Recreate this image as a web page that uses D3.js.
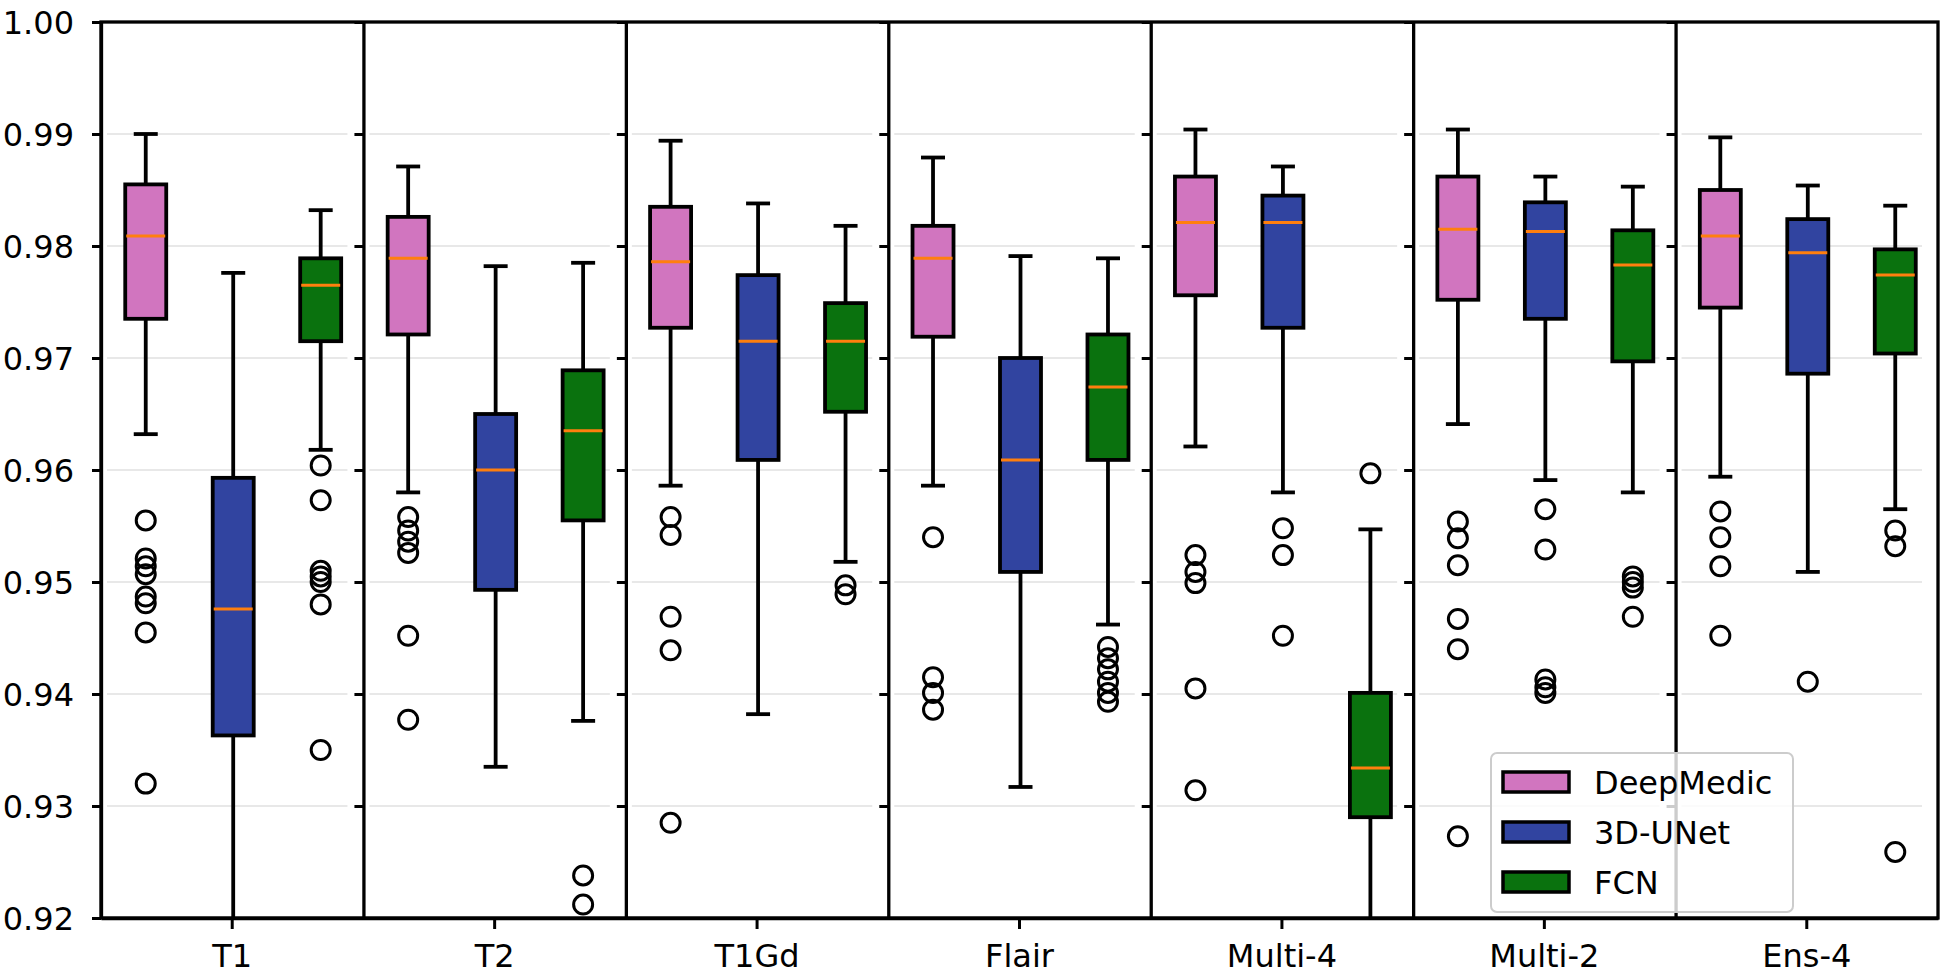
<!DOCTYPE html>
<html>
<head>
<meta charset="utf-8">
<script src="https://cdn.jsdelivr.net/npm/d3@7"></script>
<style>
  body { margin: 0; background: #fff; }
  text { font-family: "DejaVu Sans", sans-serif; }
</style>
</head>
<body>
<div id="chart"></div>
<script>
// categories, series and ticks
var groups = ["T1", "T2", "T1Gd", "Flair", "Multi-4", "Multi-2", "Ens-4"];
var methods = ["DeepMedic", "3D-UNet", "FCN"];
var yTicks = [0.92, 0.93, 0.94, 0.95, 0.96, 0.97, 0.98, 0.99, 1.00];

// [lower whisker, q1, median, q3, upper whisker] per group
var deepMedicStats = [
    [0.9632, 0.9735, 0.9809, 0.9855, 0.9900],
    [0.9580, 0.9721, 0.9789, 0.9826, 0.9871],
    [0.9586, 0.9727, 0.9786, 0.9835, 0.9894],
    [0.9586, 0.9719, 0.9789, 0.9818, 0.9879],
    [0.9621, 0.9756, 0.9821, 0.9862, 0.9904],
    [0.9641, 0.9752, 0.9815, 0.9862, 0.9904],
    [0.9594, 0.9745, 0.9809, 0.9850, 0.9897]
];
var unetStats = [
    [0.9050, 0.9363, 0.9476, 0.9593, 0.9776],
    [0.9335, 0.9493, 0.9600, 0.9650, 0.9782],
    [0.9382, 0.9609, 0.9715, 0.9774, 0.9838],
    [0.9317, 0.9509, 0.9609, 0.9700, 0.9791],
    [0.9580, 0.9727, 0.9821, 0.9845, 0.9871],
    [0.9591, 0.9735, 0.9813, 0.9839, 0.9862],
    [0.9509, 0.9686, 0.9794, 0.9824, 0.9854]
];
var fcnStats = [
    [0.9618, 0.9715, 0.9765, 0.9789, 0.9832],
    [0.9376, 0.9555, 0.9635, 0.9689, 0.9785],
    [0.9518, 0.9652, 0.9715, 0.9749, 0.9818],
    [0.9462, 0.9609, 0.9674, 0.9721, 0.9789],
    [0.9050, 0.9290, 0.9334, 0.9401, 0.9547],
    [0.9580, 0.9697, 0.9783, 0.9814, 0.9853],
    [0.9565, 0.9704, 0.9774, 0.9797, 0.9836]
];

// outliers per group
var deepMedicOut = [
    [0.9555, 0.9521, 0.9514, 0.9507, 0.9487, 0.9481, 0.9455, 0.9320],
    [0.9558, 0.9546, 0.9536, 0.9526, 0.9452, 0.9377],
    [0.9558, 0.9542, 0.9469, 0.9439, 0.9285],
    [0.9540, 0.9415, 0.9401, 0.9386],
    [0.9524, 0.9509, 0.9499, 0.9405, 0.9314],
    [0.9554, 0.9539, 0.9515, 0.9467, 0.9440, 0.9273],
    [0.9563, 0.9540, 0.9514, 0.9452]
];
var unetOut = [
    [], [], [], [],
    [0.9548, 0.9524, 0.9452],
    [0.9565, 0.9529, 0.9413, 0.9406, 0.9401],
    [0.9411]
];
var fcnOut = [
    [0.9604, 0.9573, 0.9510, 0.9505, 0.9500, 0.9480, 0.9350],
    [0.9238, 0.9212],
    [0.9497, 0.9489],
    [0.9442, 0.9432, 0.9422, 0.9411, 0.9401, 0.9393],
    [0.9597],
    [0.9505, 0.9500, 0.9495, 0.9469],
    [0.9546, 0.9532, 0.9259]
];

var colors = ["#d175bf", "#3144a0", "#0a720e"];
var allStats = [deepMedicStats, unetStats, fcnStats];
var allOut = [deepMedicOut, unetOut, fcnOut];

var W = 1950, H = 977;
var plotLeft = 101, plotRight = 1938, plotTop = 22, plotBottom = 918;

var svg = d3.select("#chart").append("svg")
    .attr("width", W).attr("height", H)
    .style("background", "#fff");

svg.append("clipPath").attr("id", "plotclip")
    .append("rect").attr("x", plotLeft).attr("y", plotTop)
    .attr("width", plotRight - plotLeft).attr("height", plotBottom - plotTop);

var x = d3.scaleBand().domain(groups).range([plotLeft, plotRight]).paddingInner(0).paddingOuter(0);
var y = d3.scaleLinear().domain([0.92, 1.00]).range([plotBottom, plotTop]);
// position of each method inside a group
var inner = d3.scaleLinear().domain([-1.5, 1.5]).range([0, x.bandwidth()]);

var boxW = 41, capW = 24, lw = 3.8;

// grid
var grid = svg.append("g");
groups.forEach(function (g) {
    grid.selectAll(null)
        .data(yTicks.slice(1, -1))
        .enter().append("line")
        .attr("x1", x(g) + 6)
        .attr("x2", x(g) + x.bandwidth() - 16)
        .attr("y1", function (d) { return y(d); })
        .attr("y2", function (d) { return y(d); })
        .attr("stroke", "#e8e8e8")
        .attr("stroke-width", 2);
});

var plot = svg.append("g").attr("clip-path", "url(#plotclip)");

groups.forEach(function (g, gi) {
    methods.forEach(function (m, mi) {
        var s = allStats[mi][gi];
        var cx = x(g) + inner(mi - 1) + 1;
        var bg = plot.append("g");

        // whiskers
        bg.append("line")
            .attr("x1", cx).attr("x2", cx)
            .attr("y1", y(s[3])).attr("y2", y(s[4]))
            .attr("stroke", "#000").attr("stroke-width", lw);
        bg.append("line")
            .attr("x1", cx).attr("x2", cx)
            .attr("y1", y(s[1])).attr("y2", y(s[0]))
            .attr("stroke", "#000").attr("stroke-width", lw);
        // caps
        [s[0], s[4]].forEach(function (v) {
            bg.append("line")
                .attr("x1", cx - capW / 2).attr("x2", cx + capW / 2)
                .attr("y1", y(v)).attr("y2", y(v))
                .attr("stroke", "#000").attr("stroke-width", lw);
        });
        // box
        bg.append("rect")
            .attr("x", cx - boxW / 2)
            .attr("y", y(s[3]))
            .attr("width", boxW)
            .attr("height", y(s[1]) - y(s[3]))
            .attr("fill", colors[mi])
            .attr("stroke", "#000")
            .attr("stroke-width", lw);
        // median
        bg.append("line")
            .attr("x1", cx - boxW / 2 + 1).attr("x2", cx + boxW / 2 - 1)
            .attr("y1", y(s[2])).attr("y2", y(s[2]))
            .attr("stroke", "#ff7f0e").attr("stroke-width", 3);
        // outliers
        bg.selectAll("circle")
            .data(allOut[mi][gi])
            .enter().append("circle")
            .attr("cx", cx)
            .attr("cy", function (d) { return y(d); })
            .attr("r", 9.5)
            .attr("fill", "none")
            .attr("stroke", "#000")
            .attr("stroke-width", 3);
    });
});

// y axes on every group's left edge (labels only on the first)
groups.forEach(function (g, gi) {
    var ax = svg.append("g")
        .attr("transform", "translate(" + x(g) + ",0)")
        .call(d3.axisLeft(y).tickValues(yTicks).tickSize(9).tickSizeOuter(0).tickPadding(18)
            .tickFormat(gi === 0 ? d3.format(".2f") : function () { return ""; }));
    ax.select(".domain").attr("stroke", "#000").attr("stroke-width", 3.3);
    ax.selectAll(".tick line").attr("stroke", "#000").attr("stroke-width", 3);
    ax.selectAll(".tick text")
        .attr("font-size", 32)
        .attr("font-family", "DejaVu Sans")
        .attr("fill", "#000")
        .attr("dy", "0.36em");
});

// x axis
var xAxis = svg.append("g")
    .attr("transform", "translate(0," + plotBottom + ")")
    .call(d3.axisBottom(x).tickSize(11).tickSizeOuter(0).tickPadding(15));
xAxis.select(".domain").attr("stroke", "#000").attr("stroke-width", 3.3);
xAxis.selectAll(".tick line").attr("stroke", "#000").attr("stroke-width", 3);
xAxis.selectAll(".tick text")
    .attr("font-size", 32)
    .attr("font-family", "DejaVu Sans")
    .attr("fill", "#000");

// frame
svg.append("rect")
    .attr("x", plotLeft).attr("y", plotTop)
    .attr("width", plotRight - plotLeft).attr("height", plotBottom - plotTop)
    .attr("fill", "none")
    .attr("stroke", "#000")
    .attr("stroke-width", 3.3);

// legend
var legend = svg.append("g").attr("transform", "translate(1491,753)");
legend.append("rect")
    .attr("width", 302).attr("height", 159)
    .attr("rx", 6).attr("ry", 6)
    .attr("fill", "#fff").attr("fill-opacity", 0.8)
    .attr("stroke", "#cccccc").attr("stroke-width", 2);
methods.forEach(function (m, i) {
    var cy = 29 + i * 50;
    legend.append("rect")
        .attr("x", 12).attr("y", cy - 10)
        .attr("width", 66).attr("height", 20)
        .attr("fill", colors[i])
        .attr("stroke", "#000").attr("stroke-width", 3.5);
    legend.append("text")
        .attr("x", 103).attr("y", cy + 12)
        .attr("font-size", 32)
        .attr("fill", "#000")
        .text(m);
});
</script>
</body>
</html>
